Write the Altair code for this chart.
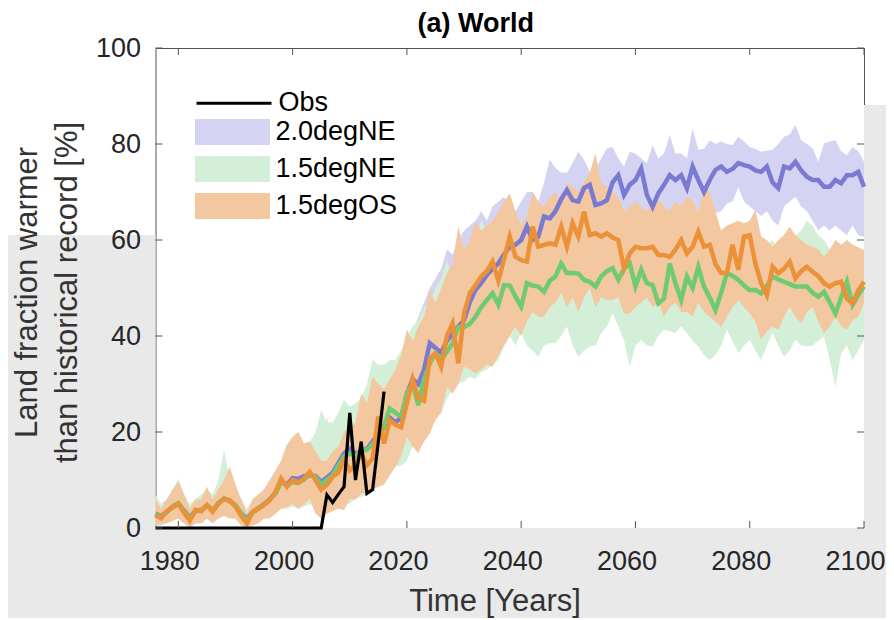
import altair as alt
import pandas as pd

FONT = "Liberation Sans"

years = list(range(1976, 2101))

# 2.0degNE
b_mid = [3.0, 2.5, 3.4, 4.4, 5.0, 3.6, 2.2, 3.5, 3.7, 4.7,
         3.6, 5.2, 6.1, 5.7, 4.6, 3.0, 2.0, 3.3, 4.1, 5.0,
         6.0, 7.3, 9.8, 9.0, 10.4, 10.2, 10.8, 11.0, 10.8, 9.6,
         10.5, 11.5, 13.5, 15.5, 16.5, 15.5, 16.0, 16.5, 18.0, 19.5,
         21.5, 23.0, 22.0, 23.0, 28.0, 31.0, 30.0, 33.0, 38.5, 37.5,
         36.5, 39.0, 40.5, 42.0, 43.3, 47.0, 49.6, 51.0, 52.7, 54.0,
         55.1, 57.0, 58.6, 59.0, 60.0, 62.8, 60.0, 60.7, 64.9, 64.5,
         66.0, 68.5, 70.4, 68.3, 68.0, 70.8, 71.5, 67.3, 67.6, 68.3,
         72.0, 73.5, 69.4, 71.5, 72.5, 74.9, 69.4, 66.9, 69.7, 71.5,
         73.5, 72.5, 73.5, 70.8, 75.3, 72.5, 70.0, 72.5, 74.6, 75.3,
         74.2, 74.8, 76.0, 75.6, 75.3, 74.5, 74.2, 75.3, 72.0, 70.8,
         75.3, 74.9, 76.3, 74.5, 73.2, 72.5, 72.5, 71.1, 71.1, 72.5,
         71.8, 73.5, 73.5, 74.2, 71.1]
b_hi = [5, 5, 6, 8, 9, 6, 4, 6, 6, 8,
        6, 8, 9, 9, 8, 5, 4, 6, 7, 8,
        9, 11, 14, 12, 14, 13, 14, 16, 14, 15,
        23, 17, 18, 20, 22, 21, 21, 22, 24, 27,
        30, 32, 33, 35, 38, 41, 44, 47, 50, 52,
        54, 58, 57, 60, 62, 63, 64, 66, 64, 67,
        68, 69, 67, 66, 68, 70, 70, 68, 72, 76.7,
        75, 74, 74, 76, 78.4, 76.7, 74.2, 74.9, 77, 79.1,
        79.4, 77, 75.3, 78.4, 78, 77, 76, 79.8, 77, 78,
        81.9, 78, 78, 77, 83.3, 78.8, 79, 80.8, 80, 80.5,
        80, 79.8, 81.5, 80.5, 79.4, 79, 78.4, 78.6, 78.8, 80,
        81.5, 82, 84, 80.8, 80, 79.1, 76.3, 80.1, 80.5, 80.8,
        78.5, 77.7, 79.4, 78.5, 76.3]
b_lo = [0.5, 0.5, 1, 2, 2, 1, 0, 1, 1, 2,
        1, 2, 3, 3, 2, 0.5, 0, 1, 1.5, 2.5,
        3, 4, 6, 5, 6, 6, 7, 7, 6, 6,
        6, 7, 7, 5.8, 9, 9, 10, 10, 11, 13,
        14, 16, 16, 18, 21, 23, 23, 27, 30, 30,
        30, 33, 35, 36, 38, 41, 44, 45, 47, 48,
        49, 50, 51, 51, 52, 54, 53, 54, 57, 57,
        58, 60, 62, 61, 60, 62, 63, 60, 60, 61,
        64, 65, 62, 63, 65, 66, 62, 60, 62, 64,
        65, 65, 66, 64, 66, 65, 63, 66, 65.6, 66,
        67.6, 68, 71, 68, 67, 66, 65, 66, 64, 63,
        67, 68, 69, 67, 66, 64, 62, 63, 62, 63,
        62, 61, 63, 61, 60.7]

# 1.5degNE
g_mid = [2.9, 2.4, 3.3, 4.5, 5.2, 3.5, 2.0, 3.6, 3.8, 4.6,
         3.8, 5.0, 6.2, 5.5, 4.8, 2.9, 1.8, 3.2, 4.2, 4.9,
         5.9, 7.2, 9.6, 8.9, 9.6, 9.4, 10.1, 11.2, 10.6, 9.0,
         10.0, 11.0, 13.0, 14.9, 15.5, 15.0, 16.0, 16.3, 17.5, 19.0,
         21.1, 24.9, 24.0, 23.2, 28.0, 30.1, 25.6, 31.0, 34.3, 36.4,
         35.0, 36.7, 38.5, 41.9, 41.9, 42.5, 44.0, 46.0, 47.5, 48.9,
         46.5, 50.6, 50.5, 48.2, 46.1, 51.0, 50.5, 50.3, 49.2, 51.5,
         52.4, 55.1, 53.1, 53.1, 53.0, 51.7, 51.3, 50.3, 52.4, 53.5,
         54.1, 51.7, 54.0, 55.1, 50.3, 53.8, 51.0, 50.6, 46.8, 47.8,
         55.1, 51.0, 47.5, 52.4, 50.0, 54.4, 50.3, 48.0, 45.4, 49.0,
         53.1, 52.5, 51.7, 50.5, 49.6, 49.6, 48.9, 50.5, 52.4, 51.8,
         51.3, 50.8, 50.3, 50.3, 50.3, 49.0, 48.2, 49.2, 47.0, 44.7,
         48.0, 51.3, 46.5, 48.5, 50.3]
g_hi = [7, 5, 5, 8, 10.3, 7, 5, 6, 7, 8,
        7, 10, 16.3, 10, 8, 6, 4, 6, 7, 8,
        10, 12, 14, 17.6, 16, 19.7, 16, 18, 20, 24.6,
        22, 22, 24, 26.7, 25.3, 26, 27, 30, 35, 34,
        34, 35, 35, 37, 40, 42, 43.3, 46, 47, 50,
        52, 55.8, 51, 55, 57, 58.6, 60, 64, 62, 63,
        62, 63, 61, 60, 59, 61, 60, 60, 62, 61,
        62, 64, 63, 62, 61, 62, 60, 62, 61, 63,
        62, 61, 63, 62, 61, 62, 60, 59, 60, 62,
        61, 62, 60, 60, 62, 61, 60, 59, 61, 62,
        60, 61, 60, 59, 60, 58, 57, 59, 60, 58,
        59, 60, 61, 62, 64, 63, 61, 60, 58, 57,
        58, 60, 59, 57, 58]
g_lo = [0.5, 1, 1, 1.5, 2, 1, 0.5, 1, 1, 2,
        1.5, 2, 2.5, 2.5, 2, 1, 0.5, 1, 1.5, 2,
        2.5, 3, 4, 4, 4.5, 4, 4.5, 5, 4, 3.5,
        3.5, 3.75, 4.5, 5, 5.1, 6, 6.5, 7, 8, 8.6,
        10, 11, 12.8, 13, 14, 17, 18, 20, 22, 23,
        24, 27, 29, 30, 30.5, 31.5, 31, 32.5, 33, 34,
        35, 37.8, 40, 38, 40.6, 38, 37, 35.7, 38, 38.5,
        38.5, 40, 42, 38, 35.7, 37, 37.8, 38, 40.6, 42,
        44.7, 42, 39, 33.6, 38, 39.2, 38, 37.8, 40, 41.3,
        41, 40.6, 42, 40.6, 39, 37.8, 36, 35, 36, 38,
        41.3, 39, 36.4, 38, 39.2, 37, 35, 38, 40.6, 38,
        35.7, 37, 39.2, 38, 37.8, 38, 39, 39.9, 35, 29.4,
        36.4, 38, 35, 37, 39.2]

# 1.5degOS
o_mid = [2.7, 2.0, 3.5, 4.3, 5.0, 3.2, 1.5, 3.8, 3.5, 4.8,
         3.4, 5.1, 6.0, 5.8, 4.5, 2.5, 1.0, 3.4, 4.0, 4.8,
         5.8, 7.5, 10.3, 8.6, 10.0, 9.5, 10.3, 11.7, 10.0, 8.0,
         9.0, 10.7, 11.5, 14.2, 12.0, 13.1, 15.6, 13.1, 14.5, 23.2,
         17.6, 22.5, 21.5, 21.0, 26.0, 31.0, 27.0, 26.5, 35.3, 36.4,
         33.6, 40.0, 42.6, 34.3, 44.7, 48.9, 50.6, 52.4, 53.5, 55.5,
         51.5, 56.0, 60.7, 56.5, 55.8, 55.5, 62.8, 58.6, 59.0, 59.3,
         59.0, 62.8, 58.6, 63.5, 60.7, 65.9, 61.0, 61.4, 60.7, 61.4,
         60.5, 60.0, 54.1, 57.2, 58.6, 58.3, 58.3, 58.6, 56.9, 56.9,
         56.5, 58.0, 60.0, 57.2, 58.6, 61.7, 58.6, 59.0, 55.0, 53.1,
         53.1, 59.0, 53.8, 60.7, 61.0, 55.0, 51.0, 48.5, 54.4, 53.1,
         54.0, 55.5, 52.0, 53.5, 54.4, 53.4, 52.5, 51.0, 50.3, 51.0,
         51.3, 47.8, 46.8, 49.5, 51.3]
o_hi = [6, 4, 6, 8, 9.7, 7, 4, 6, 6, 8.6,
        6, 8, 10, 12.8, 9, 6, 3, 6, 7, 8,
        10, 12, 14, 17.3, 19, 20, 17.6, 18, 16, 14,
        14, 16, 17, 20, 21, 22, 28, 26, 31.5, 30,
        29, 31, 33, 36, 41.3, 39, 42, 44, 49.6, 47,
        50, 53, 55, 62.8, 57.9, 60, 64, 62, 63, 64,
        66, 68, 69.7, 66, 63, 65, 70, 68, 67, 69,
        70, 68, 72, 71, 70, 72, 74, 78, 72, 71,
        70, 69, 66, 67, 68, 67, 66, 68, 68.3, 67,
        66, 68, 67, 69, 68.3, 65.6, 71, 70, 66, 62,
        63, 63.5, 64, 63.5, 64, 66.3, 60.7, 60, 58.6, 60,
        61, 62.8, 61, 60, 59, 58.6, 58, 56.5, 58, 60,
        59, 60, 59, 58.5, 57.9]
o_lo = [0.5, 1, 1, 1.5, 2, 1, 0.3, 1, 1, 2,
        1, 2, 2.5, 2, 2, 0.5, 0.3, 0.5, 1, 2,
        2, 3, 4, 4.4, 5, 4, 5, 6, 3, 2,
        3, 3.5, 4, 3.75, 6, 6, 7.2, 7.5, 8, 8.6,
        9, 11, 12.8, 15, 19, 17, 15.6, 18, 19.7, 22.5,
        24, 29.4, 28, 30, 33.6, 33, 32.2, 33, 34, 33.6,
        36, 38, 40, 42, 40, 43, 45, 44, 44, 46,
        47, 49, 46, 48, 45, 48, 50, 46, 48, 47.5,
        47.5, 48, 44.7, 44.7, 46, 47, 48, 46, 47, 44,
        46, 47, 45, 45, 44, 47, 45, 44, 43, 41.9,
        44, 46, 47.5, 46, 44.7, 43, 39.2, 41, 42, 41.3,
        44, 46.1, 44, 42.6, 45, 46.1, 43, 40.6, 42, 44,
        42, 41.3, 43.3, 44, 46.8]

obs_years = list(range(1976, 2017))
obs_vals = [0, 0, 0, 0, 0, 0, 0, 0, 0, 0,
            0, 0, 0, 0, 0, 0, 0, 0, 0, 0,
            0, 0, 0, 0, 0, 0, 0, 0, 0, 0,
            6.9, 5.3, 7.0, 8.6, 24.0, 10.0, 18.0, 7.2, 8.0, 18.0, 28.4]

scenarios = ["2.0degNE", "1.5degNE", "1.5degOS"]
band_colors = ["#d4d4f2", "#d4efd8", "#f3c7a0"]
line_colors = ["#7a7ad2", "#6ecb72", "#eb9137"]
x_ticks = [1980, 2000, 2020, 2040, 2060, 2080, 2100]
y_ticks = [0, 20, 40, 60, 80, 100]

frames = []
for name, mid, lo, hi in [("2.0degNE", b_mid, b_lo, b_hi),
                          ("1.5degNE", g_mid, g_lo, g_hi),
                          ("1.5degOS", o_mid, o_lo, o_hi)]:
    frames.append(pd.DataFrame({"year": years, "scenario": name,
                                "mid": mid, "lo": lo, "hi": hi}))
df = pd.concat(frames, ignore_index=True)
obs_df = pd.DataFrame({"year": obs_years, "val": obs_vals, "series": "Obs"})
xt_df = pd.DataFrame({"year": x_ticks})
yt_df = pd.DataFrame({"val": y_ticks})

W, H = 708.5, 480
PL, PT, PR, PB = 147.5, 40, 22, 90
TXT = "#262626"
GREY = "#e9e9e9"

xaxis = alt.Axis(values=x_ticks, format="d", ticks=False, domain=False, grid=False,
                 labelFontSize=27, labelFont=FONT, labelColor=TXT, labelPadding=20,
                 labelOffset=-9, labelFlush=False, labelOverlap=False, labelBound=False,
                 title="Time [Years]", titleFontSize=31, titleFont=FONT,
                 titleFontWeight="normal", titleColor="#333333",
                 titleX=339, titleY=82, titleBaseline="alphabetic", titleAlign="center",
                 zindex=2)
yaxis = alt.Axis(values=y_ticks, ticks=False, domain=False, grid=False,
                 labelFontSize=27, labelFont=FONT, labelColor=TXT, labelPadding=15,
                 labelFlush=False, labelOverlap=False, labelBound=False,
                 title=["Land fraction warmer", "than historical record [%]"],
                 titleFontSize=31, titleFont=FONT, titleFontWeight="normal",
                 titleColor="#333333", titleLineHeight=40, titleX=-128, titleY=244,
                 titleBaseline="middle", titleAngle=270, titleAlign="center",
                 zindex=2)

xs = alt.Scale(domain=[1976, 2100], nice=False, zero=False)
ys = alt.Scale(domain=[0, 100], nice=False, zero=False)

X = alt.X("year:Q", scale=xs, axis=xaxis)

fill_legend = alt.Legend(orient="none", legendX=62, legendY=69, title=None,
                         symbolType="M-2.5,-0.87H2.5V0.87H-2.5Z", symbolSize=900,
                         symbolStrokeWidth=0, symbolOpacity=1, labelFontSize=27,
                         labelFont=FONT, labelColor="black", labelOffset=28,
                         rowPadding=8, padding=0)
obs_legend = alt.Legend(orient="none", legendX=62, legendY=38.7, title=None,
                        symbolType="M-2.5,0H2.5", symbolSize=900, symbolStrokeWidth=3,
                        labelFontSize=27, labelFont=FONT, labelColor="black",
                        labelOffset=28, padding=0)

fill_scale = alt.Scale(domain=scenarios, range=band_colors)
color_scale = alt.Scale(domain=scenarios, range=line_colors)

# decorative grey slide background outside the axes box (left, right, bottom)
bg_df = pd.DataFrame({"part": ["left", "right", "bottom"]})
bg_left = alt.Chart(bg_df.iloc[[0]]).mark_rect(color=GREY).encode(
    x=alt.value(-PL), x2=alt.value(0), y=alt.value(187), y2=alt.value(H + PB))
bg_right = alt.Chart(bg_df.iloc[[1]]).mark_rect(color=GREY).encode(
    x=alt.value(W), x2=alt.value(W + PR), y=alt.value(57), y2=alt.value(H + PB))
bg_bottom = alt.Chart(bg_df.iloc[[2]]).mark_rect(color=GREY).encode(
    x=alt.value(-PL), x2=alt.value(W + PR), y=alt.value(H), y2=alt.value(H + PB))

layers = [bg_left, bg_right, bg_bottom]
for s in scenarios:
    layers.append(
        alt.Chart(df).transform_filter(alt.datum.scenario == s)
        .mark_area(opacity=1, strokeWidth=0)
        .encode(x=X, y=alt.Y("lo:Q", scale=ys, axis=yaxis), y2="hi:Q",
                fill=alt.Fill("scenario:N", scale=fill_scale, legend=fill_legend))
    )
for s in scenarios:
    layers.append(
        alt.Chart(df).transform_filter(alt.datum.scenario == s)
        .mark_line(strokeWidth=4.5, strokeJoin="miter")
        .encode(x=X, y=alt.Y("mid:Q", scale=ys, axis=yaxis),
                color=alt.Color("scenario:N", scale=color_scale, legend=None))
    )
layers.append(
    alt.Chart(obs_df).mark_line(strokeWidth=3.2)
    .encode(x=X, y=alt.Y("val:Q", scale=ys, axis=yaxis),
            stroke=alt.Stroke("series:N", scale=alt.Scale(domain=["Obs"], range=["black"]),
                              legend=obs_legend))
)
TICK = "#555555"
layers.append(alt.Chart(xt_df).mark_rule(color=TICK, strokeWidth=1)
              .encode(x=X, y=alt.value(0), y2=alt.value(7)))
layers.append(alt.Chart(xt_df).mark_rule(color=TICK, strokeWidth=1)
              .encode(x=X, y=alt.value(H - 7), y2=alt.value(H)))
layers.append(alt.Chart(yt_df).mark_rule(color=TICK, strokeWidth=1)
              .encode(y=alt.Y("val:Q", scale=ys, axis=yaxis), x=alt.value(0), x2=alt.value(7)))
layers.append(alt.Chart(yt_df).mark_rule(color=TICK, strokeWidth=1)
              .encode(y=alt.Y("val:Q", scale=ys, axis=yaxis), x=alt.value(W - 7), x2=alt.value(W)))

chart = alt.layer(*layers).properties(
    width=W, height=H,
    autosize=alt.AutoSizeParams(type="none"),
    padding={"left": PL, "top": PT, "right": PR, "bottom": PB},
    background="white",
    title=alt.TitleParams("(a) World", fontSize=27, fontWeight="bold", font=FONT,
                          color="black", anchor="middle", dx=-34, offset=-25,
                          baseline="alphabetic"),
).configure_view(fill="white", stroke="#555555", strokeWidth=1)

chart.save("out.html", embed_options={"renderer": "svg", "actions": False})
